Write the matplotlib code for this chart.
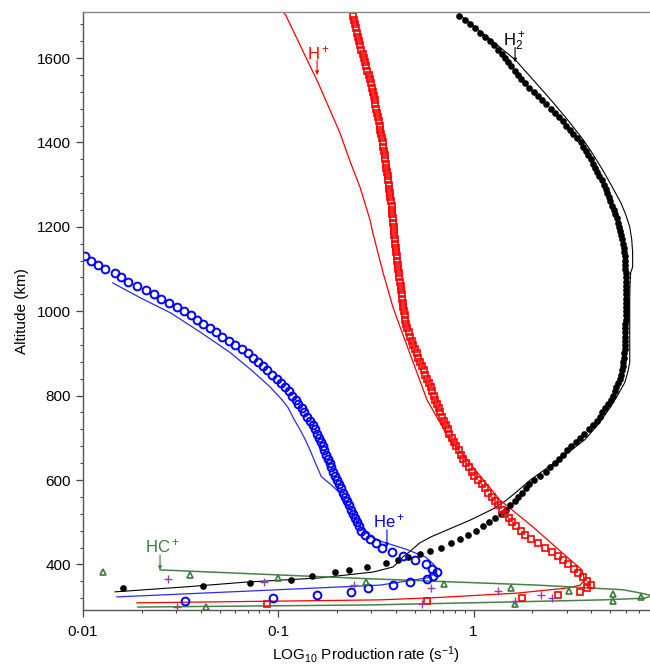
import numpy as np
import matplotlib
matplotlib.use('Agg')
import matplotlib.pyplot as plt
from matplotlib.ticker import MultipleLocator, FixedLocator, FixedFormatter, LogLocator, NullFormatter

plt.rcParams['font.family'] = ['Liberation Sans', 'DejaVu Sans']
plt.rcParams['mathtext.fontset'] = 'custom'
plt.rcParams['mathtext.rm'] = 'Liberation Sans'
plt.rcParams['mathtext.it'] = 'Liberation Sans:italic'

# ---- H2+ model points (black dots), 10 km grid 1700 -> 440, then sparse tail
h2_dot_alt = list(range(1700, 439, -10))
h2_dot_val = [0.84, 0.90, 0.96, 1.02, 1.08, 1.15, 1.21, 1.27, 1.33, 1.39,
              1.45, 1.50, 1.56, 1.62, 1.68, 1.74, 1.83, 1.93, 2.03, 2.14,
              2.25, 2.36, 2.48, 2.61, 2.73, 2.86, 2.98, 3.11, 3.24, 3.38,
              3.53, 3.64, 3.75, 3.86, 3.97, 4.08, 4.19, 4.30, 4.41, 4.52,
              4.64, 4.75, 4.84, 4.93, 5.02, 5.12, 5.22, 5.32, 5.43, 5.50,
              5.56, 5.62, 5.68, 5.74, 5.80, 5.86, 5.92, 5.95, 5.97, 5.98,
              5.99, 6.00, 6.00, 6.01, 6.01, 6.01, 6.01, 6.01, 6.01, 6.01,
              6.00, 6.00, 6.00, 5.99, 5.98, 5.97, 5.96, 5.95, 5.94, 5.93,
              5.91, 5.87, 5.83, 5.79, 5.74, 5.69, 5.62, 5.50, 5.38, 5.27,
              5.16, 5.04, 4.88, 4.71, 4.56, 4.42, 4.27, 4.07, 3.88, 3.69,
              3.51, 3.34, 3.17, 3.01, 2.87, 2.73, 2.60, 2.47, 2.34, 2.18,
              2.04, 1.93, 1.85, 1.77, 1.69, 1.62, 1.53, 1.46, 1.38, 1.29,
              1.20, 1.12, 1.03, 0.94, 0.85, 0.77, 0.68]
h2_tail_alt = [432, 425, 417, 410, 403, 394, 387, 381, 373, 364, 356, 349, 343]
h2_tail_val = [0.60, 0.53, 0.46, 0.41, 0.355, 0.285, 0.230, 0.195, 0.149, 0.116, 0.072, 0.041, 0.016]

# ---- H2+ line (black)
h2_line_alt = [1712, 1700, 1640, 1595, 1550, 1508, 1460, 1413, 1380, 1342, 1300, 1257, 1230,
               1200, 1170, 1138, 1105, 1091, 1060, 1027, 950, 878, 855, 831, 800, 774,
               735, 696, 660, 625, 600, 570, 550, 530, 505, 485, 466, 451, 430, 418,
               405, 394, 382, 368, 358, 347, 335]
h2_line_val = [0.83, 0.86, 1.25, 1.64, 2.00, 2.41, 2.95, 3.55, 3.98, 4.48, 5.05, 5.67, 6.00,
               6.30, 6.45, 6.52, 6.52, 6.37, 6.32, 6.30, 6.30, 6.30, 6.15, 5.94, 5.45, 5.04,
               4.40, 3.72, 2.95, 2.32, 1.95, 1.64, 1.45, 1.24, 0.96, 0.76, 0.61, 0.53, 0.47, 0.435,
               0.41, 0.387, 0.306, 0.163, 0.068, 0.034, 0.0146]

# ---- H+ model points (red squares), 10 km grid 1700 -> 360, then tail
hp_sq_alt = list(range(1700, 359, -10))
hp_sq_val = [0.240, 0.243, 0.246, 0.249, 0.252, 0.255, 0.258, 0.262, 0.266, 0.270,
             0.274, 0.278, 0.282, 0.286, 0.290, 0.294, 0.297, 0.301, 0.304, 0.308,
             0.311, 0.314, 0.318, 0.321, 0.324, 0.327, 0.330, 0.333, 0.336, 0.339,
             0.342, 0.345, 0.348, 0.350, 0.353, 0.355, 0.358, 0.360, 0.363, 0.365,
             0.368, 0.370, 0.373, 0.375, 0.377, 0.380, 0.382, 0.384, 0.386, 0.388,
             0.390, 0.392, 0.393, 0.395, 0.397, 0.399, 0.401, 0.403, 0.406, 0.408,
             0.411, 0.414, 0.417, 0.420, 0.423, 0.425, 0.428, 0.431, 0.434, 0.437,
             0.440, 0.443, 0.446, 0.449, 0.454, 0.466, 0.474, 0.482, 0.491, 0.500,
             0.510, 0.520, 0.530, 0.542, 0.554, 0.566, 0.579, 0.591, 0.603, 0.614,
             0.626, 0.637, 0.649, 0.661, 0.674, 0.688, 0.703, 0.718, 0.735, 0.752,
             0.773, 0.794, 0.816, 0.838, 0.860, 0.886, 0.915, 0.945, 0.978, 1.01,
             1.05, 1.10, 1.14, 1.19, 1.24, 1.29, 1.34, 1.39, 1.45, 1.51,
             1.57, 1.64, 1.74, 1.84, 1.96, 2.14, 2.33, 2.52, 2.69, 2.88,
             3.06, 3.25, 3.44, 3.64, 3.82]
hp_tail_alt = [351, 344, 335, 328, 321, 314, 306]
hp_tail_val = [4.0, 3.8, 3.5, 2.7, 1.77, 0.58, 0.088]

# ---- H+ line (red)
hp_line_alt = [1712, 1702, 1541, 1422, 1355, 1294, 1216, 1185, 1091, 1010, 963, 790, 695,
               648, 553, 489, 418, 387, 363, 351, 344, 332, 321, 316, 309]
hp_line_val = [0.105, 0.109, 0.160, 0.207, 0.233, 0.262, 0.295, 0.305, 0.344, 0.386, 0.420,
               0.577, 0.756, 0.925, 1.36, 2.01, 3.00, 3.59, 3.70, 3.51, 3.00, 1.67, 0.62,
               0.33, 0.0189]

# ---- He+ model points (blue circles), 10 km grid 1130 -> 390, then tail
he_c_alt = list(range(1130, 389, -10))
he_c_val = [0.0102, 0.0110, 0.0120, 0.0130, 0.0145, 0.0157, 0.0170, 0.0189, 0.0210, 0.0230,
            0.0251, 0.0276, 0.0303, 0.0330, 0.0357, 0.0385, 0.0413, 0.0445, 0.0479, 0.0516,
            0.0559, 0.0603, 0.0650, 0.0700, 0.0740, 0.0784, 0.0830, 0.0877, 0.0928, 0.0983,
            0.1030, 0.1080, 0.1130, 0.1180, 0.1225, 0.1265, 0.1315, 0.1360, 0.1410, 0.1460,
            0.1510, 0.1550, 0.1580, 0.1610, 0.1650, 0.1690, 0.1720, 0.1760, 0.1800, 0.1830,
            0.1870, 0.1910, 0.1950, 0.1990, 0.2040, 0.2090, 0.2140, 0.2190, 0.2250, 0.2300,
            0.2350, 0.2410, 0.2470, 0.2540, 0.2600, 0.2660, 0.2790, 0.2960, 0.3150, 0.3400,
            0.3800, 0.4350, 0.5000, 0.5700, 0.6150]
he_tail_alt = [382, 373, 366, 358, 351, 344, 335, 328, 321, 313]
he_tail_val = [0.65, 0.62, 0.58, 0.47, 0.387, 0.288, 0.236, 0.158, 0.094, 0.0333]

# ---- He+ line (blue)
he_line_alt = [1067, 1030, 996, 950, 902, 860, 821, 791, 772, 745, 720, 700, 672, 640, 608,
               590, 570, 545, 523, 500, 483, 465, 454, 436, 417, 400, 383, 372, 368, 351,
               337, 323]
he_line_val = [0.0142, 0.0200, 0.0281, 0.0400, 0.0567, 0.0730, 0.0906, 0.104, 0.112, 0.120,
               0.129, 0.136, 0.145, 0.155, 0.166, 0.185, 0.206, 0.222, 0.239, 0.255, 0.269,
               0.300, 0.340, 0.451, 0.570, 0.625, 0.648, 0.604, 0.577, 0.332, 0.0716, 0.0149]

# ---- HC+ line (green)
hc_line_alt = [387, 366, 351, 340, 332.5, 326, 320, 316, 309, 304, 299]
hc_line_val = [0.0248, 0.295, 2.11, 5.82, 7.11, 8.2, 7.5, 4.60, 0.96, 0.295, 0.0191]

# ---- HC+ points (green triangles)
hc_tri_alt = [382, 375, 368, 359, 354, 344, 337, 330, 323, 314, 307, 300]
hc_tri_val = [0.0126, 0.0355, 0.0993, 0.282, 0.703, 1.56, 3.08, 5.16, 7.16, 5.16, 1.62, 0.0428]

# ---- other points (purple crosses)
px_alt = [366, 359, 351, 344, 337, 328, 321, 314, 307, 300]
px_val = [0.0274, 0.0844, 0.245, 0.604, 1.34, 2.22, 2.52, 1.62, 0.543, 0.0304]

GREEN = '#3d7a3d'
PURPLE = '#9b3fa6'

fig = plt.figure(figsize=(6.5, 6.69), dpi=100)
ax = fig.add_axes([83 / 650, 1 - 610 / 669, 567 / 650, 598 / 669])

# lines
ax.plot(h2_line_val, h2_line_alt, color='black', lw=0.8)
ax.plot(hp_line_val, hp_line_alt, color='#ff0000', lw=0.9)
ax.plot(he_line_val, he_line_alt, color='#2a2aff', lw=0.9)
ax.plot(hc_line_val, hc_line_alt, color='#4a804a', lw=1.1)

# markers
ax.plot(h2_dot_val, h2_dot_alt, 'o', color='black', ms=4.8, mew=0)
ax.plot(h2_tail_val, h2_tail_alt, 'o', color='black', ms=4.8, mew=0)
ax.plot(hp_sq_val, hp_sq_alt, 's', mfc='none', mec='#ff0000', ms=5.0, mew=1.2)
ax.plot(hp_tail_val, hp_tail_alt, 's', mfc='none', mec='#ff0000', ms=5.0, mew=1.2)
ax.plot(he_c_val, he_c_alt, 'o', mfc='none', mec='#0000ff', ms=5.6, mew=1.4)
ax.plot(he_tail_val, he_tail_alt, 'o', mfc='none', mec='#0000ff', ms=5.6, mew=1.4)
ax.plot(hc_tri_val, hc_tri_alt, '^', mfc='none', mec=GREEN, ms=4.8, mew=1.2)
ax.plot(px_val, px_alt, '+', color=PURPLE, ms=6, mew=1.0)

# species labels with small leader arrows
def label(txt, x, y, ax_x, y0, y1, c):
    ax.text(x, y, txt, color=c, fontsize=12, ha='left', va='baseline')
    ax.annotate('', xy=(ax_x, y1), xytext=(ax_x, y0),
                arrowprops=dict(arrowstyle='-|>', color=c, lw=0.8,
                                mutation_scale=5, shrinkA=0, shrinkB=0))

label('H$_2^+$', 1.41, 1630, 1.63, 1625, 1590, 'black')
label('H$^+$', 0.140, 1596, 0.158, 1595, 1560, '#ff0000')
label('He$^+$', 0.305, 487, 0.360, 482, 441, '#0000ff')
label('HC$^+$', 0.0208, 428, 0.0248, 422, 387, GREEN)

ax.set_xscale('log')
ax.set_xlim(0.01, 8)
ax.set_ylim(292, 1709)

ax.xaxis.set_major_locator(FixedLocator([0.01, 0.1, 1]))
ax.xaxis.set_major_formatter(FixedFormatter(['0\u00b701', '0\u00b71', '1']))
ax.xaxis.set_minor_locator(LogLocator(base=10, subs=np.arange(2, 10)))
ax.xaxis.set_minor_formatter(NullFormatter())
ax.yaxis.set_major_locator(MultipleLocator(200))
ax.yaxis.set_minor_locator(MultipleLocator(40))

ax.tick_params(which='major', direction='out', length=5, width=0.9, labelsize=11, colors='#444444',
               labelcolor='black')
ax.tick_params(which='minor', direction='out', length=2.5, width=0.8, colors='#444444')
ax.tick_params(axis='x', which='major', pad=6)

ax.spines['right'].set_visible(False)
for s in ['left', 'bottom']:
    ax.spines[s].set_color('#555555')
    ax.spines[s].set_linewidth(1.0)
ax.spines['top'].set_color('#888888')
ax.spines['top'].set_linewidth(1.0)

ax.set_ylabel('Altitude (km)', fontsize=11, labelpad=6)
ax.set_xlabel('LOG$_{10}$ Production rate (s$^{-1}$)', fontsize=11, labelpad=4)

plt.savefig('out.png', dpi=100)
plt.close()
